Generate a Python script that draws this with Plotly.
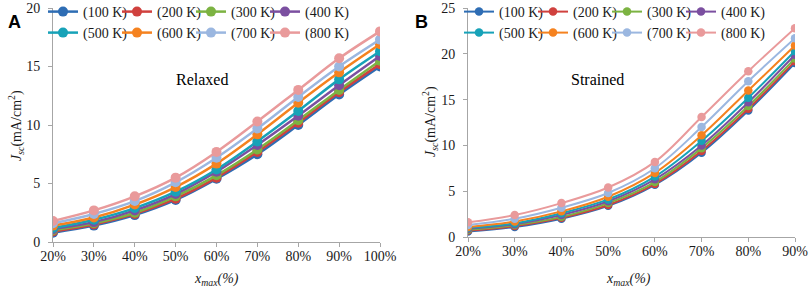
import plotly.graph_objects as go

# ---------------- data ----------------
series_names = ["(100 K)", "(200 K)", "(300 K)", "(400 K)",
                "(500 K)", "(600 K)", "(700 K)", "(800 K)"]
colors = ["#2E6DB4", "#D0413E", "#7CB342", "#7B4FA0",
          "#17A2B8", "#F5821F", "#9BB7E0", "#E99A9B"]

relaxed_x = ["20%", "30%", "40%", "50%", "60%", "70%", "80%", "90%", "100%"]
relaxed_100K = [0.8, 1.4, 2.3, 3.6, 5.4, 7.5, 10.0, 12.6, 15.0]
relaxed_200K = [0.9, 1.5, 2.4, 3.7, 5.5, 7.7, 10.2, 12.8, 15.2]
relaxed_300K = [1.0, 1.6, 2.5, 3.9, 5.7, 7.9, 10.4, 13.0, 15.5]
relaxed_400K = [1.1, 1.7, 2.7, 4.1, 6.0, 8.3, 10.8, 13.4, 15.9]
relaxed_500K = [1.2, 1.9, 2.9, 4.3, 6.2, 8.6, 11.2, 13.9, 16.3]
relaxed_600K = [1.4, 2.1, 3.2, 4.7, 6.7, 9.2, 11.9, 14.5, 16.9]
relaxed_700K = [1.6, 2.4, 3.5, 5.1, 7.2, 9.7, 12.4, 15.0, 17.3]
relaxed_800K = [1.8, 2.7, 3.9, 5.5, 7.7, 10.3, 13.0, 15.7, 18.0]

strained_x = ["20%", "30%", "40%", "50%", "60%", "70%", "80%", "90%"]
strained_100K = [0.6, 1.1, 2.0, 3.4, 5.7, 9.2, 13.8, 19.0]
strained_200K = [0.7, 1.2, 2.1, 3.5, 5.8, 9.4, 14.0, 19.2]
strained_300K = [0.8, 1.3, 2.2, 3.7, 6.0, 9.7, 14.3, 19.5]
strained_400K = [0.9, 1.4, 2.4, 3.9, 6.3, 10.0, 14.7, 19.9]
strained_500K = [1.0, 1.5, 2.6, 4.1, 6.6, 10.5, 15.2, 20.3]
strained_600K = [1.1, 1.7, 2.8, 4.4, 7.0, 11.1, 16.0, 20.9]
strained_700K = [1.3, 2.0, 3.2, 4.8, 7.5, 12.0, 17.0, 21.7]
strained_800K = [1.6, 2.4, 3.7, 5.4, 8.2, 13.1, 18.1, 22.8]

relaxed = [relaxed_100K, relaxed_200K, relaxed_300K, relaxed_400K,
           relaxed_500K, relaxed_600K, relaxed_700K, relaxed_800K]
strained = [strained_100K, strained_200K, strained_300K, strained_400K,
            strained_500K, strained_600K, strained_700K, strained_800K]

relaxed_yticks = [0, 5, 10, 15, 20]
strained_yticks = [0, 5, 10, 15, 20, 25]

# ---------------- figure ----------------
W, H = 809, 288
SERIF = "Liberation Serif, Times New Roman, serif"

def px_x(p):
    return p / W

def px_y(p):
    return 1 - p / H

fig = go.Figure()

for i, (name, col) in enumerate(zip(series_names, colors)):
    leg_l = "legend" if i < 4 else "legend2"
    leg_r = "legend3" if i < 4 else "legend4"
    fig.add_trace(go.Scatter(
        x=relaxed_x, y=relaxed[i], name=name, mode="lines+markers",
        line=dict(color=col, width=2.5, shape="spline"),
        marker=dict(color=col, size=10),
        xaxis="x", yaxis="y", legend=leg_l))
    fig.add_trace(go.Scatter(
        x=strained_x, y=strained[i], name=name, mode="lines+markers",
        line=dict(color=col, width=2, shape="spline"),
        marker=dict(color=col, size=8.5),
        xaxis="x2", yaxis="y2", legend=leg_r))

# invisible spacer entries so the last legend label is not clipped
for leg in ["legend", "legend2", "legend3", "legend4"]:
    fig.add_trace(go.Scatter(x=[None], y=[None], name=" ", mode="lines",
                             line=dict(color="rgba(0,0,0,0)", width=0),
                             hoverinfo="skip", legend=leg))

axis_common = dict(
    showgrid=False, zeroline=False, showline=True, linecolor="#A6A6A6",
    linewidth=1, ticks="outside", ticklen=4, tickcolor="#A6A6A6",
    tickfont=dict(family=SERIF, size=14, color="#1a1a1a"),
    automargin=False,
)

fig.update_layout(
    width=W, height=H,
    margin=dict(l=0, r=0, t=0, b=0, autoexpand=False),
    paper_bgcolor="white", plot_bgcolor="white",
    showlegend=True, hovermode=False,
    xaxis=dict(domain=[px_x(53), px_x(380)], type="category", tickangle=0,
               range=[0, len(relaxed_x) - 1], anchor="y",
               ticklabelstandoff=-3, **axis_common),
    yaxis=dict(domain=[px_y(242), px_y(8)], range=[0, 20],
               tickvals=relaxed_yticks, anchor="x", ticklabelstandoff=5,
               **axis_common),
    xaxis2=dict(domain=[px_x(468), px_x(795)], type="category", tickangle=0,
                range=[0, len(strained_x) - 1], anchor="y2",
                ticklabelstandoff=-3, **axis_common),
    yaxis2=dict(domain=[px_y(237), px_y(8)], range=[0, 25],
                tickvals=strained_yticks, anchor="x2", ticklabelstandoff=5,
                **axis_common),
)

legend_common = dict(
    orientation="h", xanchor="left", yanchor="middle",
    bgcolor="rgba(0,0,0,0)", font=dict(family=SERIF, size=14, color="#1a1a1a"),
    entrywidth=29, entrywidthmode="pixels", itemwidth=30,
    tracegroupgap=0, itemclick=False, itemdoubleclick=False,
)
fig.update_layout(
    legend=dict(x=px_x(43), y=px_y(12), **legend_common),
    legend2=dict(x=px_x(43), y=px_y(33), **legend_common),
    legend3=dict(x=px_x(459), y=px_y(12), **legend_common),
    legend4=dict(x=px_x(459), y=px_y(33), **legend_common),
)

def note(text, x, y, size, family=SERIF, angle=0, color="#1a1a1a"):
    return dict(text=text, x=px_x(x), y=px_y(y), xref="paper", yref="paper",
                xanchor="center", yanchor="middle", textangle=angle,
                showarrow=False, font=dict(family=family, size=size, color=color))

ytitle = "<i>J</i><sub><i>sc</i></sub>(mA/cm<sup>2</sup>)"
xtitle = "<i>x</i><sub><i>max</i></sub><i>(%)</i>"
ann = [
    note("<b>A</b>", 14, 22, 18, "Liberation Sans, Arial", color="black"),
    note("<b>B</b>", 421, 22, 18, "Liberation Sans, Arial", color="black"),
    note("Relaxed", 202, 79, 16, color="black"),
    note("Strained", 597, 79, 16, color="black"),
    note(ytitle, 16, 126, 14, angle=-90),
    note(ytitle, 430, 122, 14, angle=-90),
    note(xtitle, 216, 279, 14),
    note(xtitle, 628, 279, 14),
]
fig.update_layout(annotations=ann)

fig.write_html("out.html",
               config={"displayModeBar": False},
               post_script="document.body.style.margin='0';")
